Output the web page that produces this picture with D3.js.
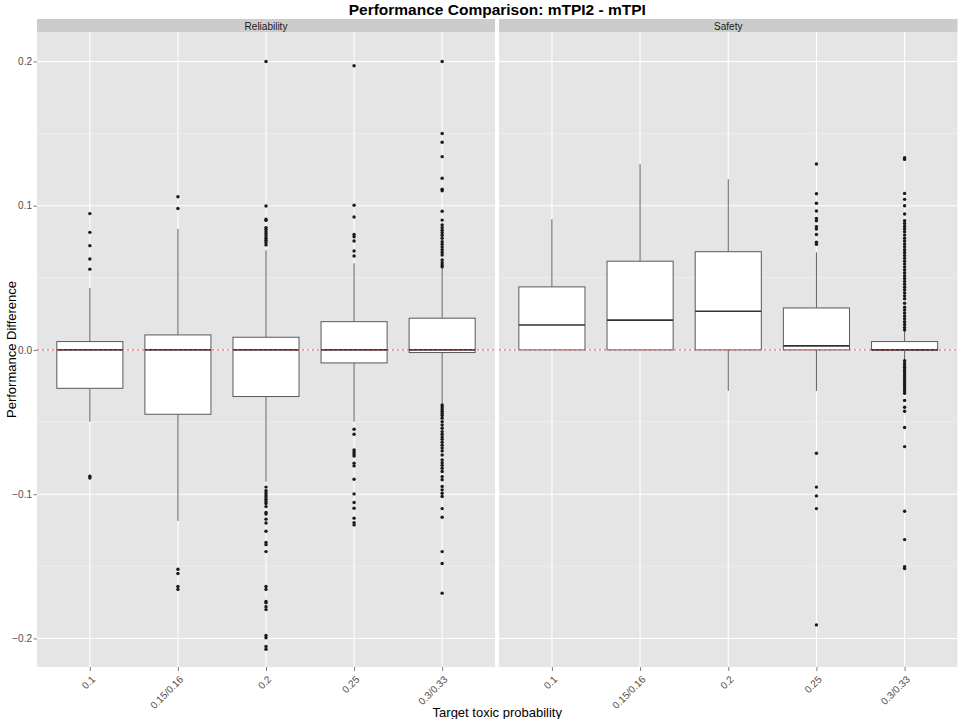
<!DOCTYPE html>
<html>
<head>
<meta charset="utf-8">
<script src="https://cdn.jsdelivr.net/npm/d3@7"></script>
<style>
body { margin: 0; background: #fff; }
text { font-family: "Liberation Sans", Arial, Helvetica, sans-serif; }
</style>
</head>
<body>
<script>
var categories = ["0.1", "0.15/0.16", "0.2", "0.25", "0.3/0.33"];
var panels = ["Reliability", "Safety"];
var yTicks = [-0.2, -0.1, 0.0, 0.1, 0.2];
var yMinor = [-0.15, -0.05, 0.05, 0.15];

// Reliability box stats
var relLower  = [-0.0497, -0.1185, -0.0913, -0.0497, -0.037];
var relQ1     = [-0.0266, -0.0446, -0.0323, -0.009, -0.0018];
var relMedian = [0, 0, 0, 0, 0];
var relQ3     = [0.0058, 0.0104, 0.0088, 0.0196, 0.022];
var relUpper  = [0.043, 0.0838, 0.069, 0.060, 0.0577];

// Safety box stats
var safLower  = [0, 0, -0.0284, -0.0284, -0.007];
var safQ1     = [0, 0, 0, 0, 0];
var safMedian = [0.0173, 0.0206, 0.0268, 0.0028, 0];
var safQ3     = [0.0437, 0.0615, 0.0681, 0.0291, 0.0058];
var safUpper  = [0.0906, 0.1287, 0.1183, 0.0677, 0.0139];

var relOutliers = [
  [0.0945, 0.0815, 0.0723, 0.063, 0.056, -0.0875, -0.0888],
  [0.1062, 0.098, -0.152, -0.155, -0.164, -0.166],
  [0.2, 0.0998, 0.0906, 0.0898, 0.0848, 0.0835, 0.082, 0.0805, 0.079, 0.0775, 0.076, 0.0745, 0.0728,
   -0.0951, -0.0975, -0.099, -0.1005, -0.102, -0.1035, -0.105, -0.1065, -0.1086, -0.1127, -0.1138,
   -0.1173, -0.120, -0.1257, -0.1335, -0.135, -0.1398, -0.164, -0.166, -0.1744, -0.1753, -0.178,
   -0.18, -0.198, -0.1995, -0.2056, -0.2075],
  [0.197, 0.1003, 0.0922, 0.080, 0.0785, 0.0755, 0.0686, 0.0651,
   -0.055, -0.0584, -0.0693, -0.0707, -0.0721, -0.0735, -0.0785, -0.0804, -0.0896, -0.0998,
   -0.1058, -0.1097, -0.1166, -0.1197, -0.1213],
  [0.2, 0.150, 0.144, 0.134, 0.119, 0.1114, 0.1104, 0.0961, 0.090, 0.0866, 0.0848, 0.083, 0.0812,
   0.0795, 0.0774, 0.075, 0.0732, 0.0714, 0.0695, 0.0676, 0.0658, 0.0624, 0.0605, 0.0588, 0.0577,
   -0.0381, -0.0395, -0.041, -0.0425, -0.044, -0.0455, -0.0473, -0.0497, -0.052, -0.0543, -0.0566,
   -0.0585, -0.0603, -0.062, -0.064, -0.066, -0.068, -0.070, -0.0728, -0.0762, -0.0782, -0.080,
   -0.082, -0.0843, -0.0878, -0.090, -0.0947, -0.097, -0.0993, -0.1016, -0.110, -0.116, -0.1398,
   -0.148, -0.1686]
];

var safOutliers = [
  [],
  [],
  [],
  [0.1289, 0.1083, 0.1017, 0.0963, 0.0912, 0.0896, 0.0855, 0.0838, 0.080, 0.0746, 0.0732,
   -0.0716, -0.0951, -0.1012, -0.110, -0.1906],
  [0.1333, 0.1321, 0.1085, 0.1044, 0.100, 0.0942, 0.0896, 0.0876, 0.0856, 0.0838, 0.082, 0.0797,
   0.0775, 0.0755, 0.0735, 0.0715, 0.0695, 0.0675, 0.0655, 0.0635, 0.0615, 0.0595, 0.0575, 0.0555,
   0.0535, 0.0515, 0.0495, 0.0475, 0.0455, 0.0435, 0.0415, 0.0395, 0.0375, 0.0355, 0.0324, 0.0296,
   0.0276, 0.0256, 0.0236, 0.0216, 0.0196, 0.0176, 0.0156, 0.0139,
   -0.0074, -0.009, -0.0105, -0.012, -0.0135, -0.015, -0.0165, -0.018, -0.0195, -0.021, -0.0225,
   -0.024, -0.0255, -0.027, -0.0285, -0.030, -0.035, -0.0397, -0.0425, -0.0538, -0.067, -0.1118,
   -0.1315, -0.1502, -0.1515]
];

function makeStats(lo, q1, med, q3, hi, outs) {
  return categories.map(function(c, i) {
    return {cat: c, lo: lo[i], q1: q1[i], med: med[i], q3: q3[i], hi: hi[i], outliers: outs[i]};
  });
}

var panelData = [
  {name: panels[0], x0: 37, x1: 495, stats: makeStats(relLower, relQ1, relMedian, relQ3, relUpper, relOutliers)},
  {name: panels[1], x0: 499, x1: 957.5, stats: makeStats(safLower, safQ1, safMedian, safQ3, safUpper, safOutliers)}
];

var W = 959, H = 719;
var panelTop = 32, panelBottom = 667, stripTop = 19;

var svg = d3.select("body").append("svg")
  .attr("width", W).attr("height", H);

var y = d3.scaleLinear().domain([-0.2198, 0.2204]).range([panelBottom, panelTop]);

svg.append("text")
  .attr("x", (37 + 957.5) / 2).attr("y", 15)
  .attr("text-anchor", "middle")
  .style("font-size", "15.5px").style("font-weight", "bold")
  .text("Performance Comparison: mTPI2 - mTPI");

panelData.forEach(function(p, pi) {
  var x = d3.scalePoint().domain(categories).range([p.x0, p.x1]).padding(0.6);
  var bw = x.step() * 0.75;
  var g = svg.append("g");

  // strip
  g.append("rect")
    .attr("x", p.x0).attr("y", stripTop)
    .attr("width", p.x1 - p.x0).attr("height", panelTop - stripTop)
    .attr("fill", "#cccccc");
  g.append("text")
    .attr("x", (p.x0 + p.x1) / 2).attr("y", 29.5)
    .attr("text-anchor", "middle")
    .style("font-size", "10px").style("fill", "#1a1a1a")
    .text(p.name);

  // panel background
  g.append("rect")
    .attr("x", p.x0).attr("y", panelTop)
    .attr("width", p.x1 - p.x0).attr("height", panelBottom - panelTop)
    .attr("fill", "#e5e5e5");

  g.selectAll(".minor").data(yMinor).enter().append("line")
    .attr("x1", p.x0).attr("x2", p.x1)
    .attr("y1", function(d) { return y(d); }).attr("y2", function(d) { return y(d); })
    .attr("stroke", "#f2f2f2").attr("stroke-width", 0.6);

  g.selectAll(".major").data(yTicks).enter().append("line")
    .attr("x1", p.x0).attr("x2", p.x1)
    .attr("y1", function(d) { return y(d); }).attr("y2", function(d) { return y(d); })
    .attr("stroke", "#ffffff").attr("stroke-width", 1.1);

  g.selectAll(".vgrid").data(categories).enter().append("line")
    .attr("x1", function(d) { return x(d); }).attr("x2", function(d) { return x(d); })
    .attr("y1", panelTop).attr("y2", panelBottom)
    .attr("stroke", "#ffffff").attr("stroke-width", 1.1);

  // boxes
  var box = g.selectAll(".box").data(p.stats).enter().append("g");

  box.filter(function(d) { return d.hi > d.q3; }).append("line")
    .attr("x1", function(d) { return x(d.cat); }).attr("x2", function(d) { return x(d.cat); })
    .attr("y1", function(d) { return y(d.q3); }).attr("y2", function(d) { return y(d.hi); })
    .attr("stroke", "#4d4d4d").attr("stroke-width", 0.9);

  box.filter(function(d) { return d.lo < d.q1; }).append("line")
    .attr("x1", function(d) { return x(d.cat); }).attr("x2", function(d) { return x(d.cat); })
    .attr("y1", function(d) { return y(d.q1); }).attr("y2", function(d) { return y(d.lo); })
    .attr("stroke", "#4d4d4d").attr("stroke-width", 0.9);

  box.append("rect")
    .attr("x", function(d) { return x(d.cat) - bw / 2; })
    .attr("width", bw)
    .attr("y", function(d) { return y(d.q3); })
    .attr("height", function(d) { return y(d.q1) - y(d.q3); })
    .attr("fill", "#ffffff").attr("stroke", "#595959").attr("stroke-width", 1);

  box.append("line")
    .attr("x1", function(d) { return x(d.cat) - bw / 2; })
    .attr("x2", function(d) { return x(d.cat) + bw / 2; })
    .attr("y1", function(d) { return y(d.med); }).attr("y2", function(d) { return y(d.med); })
    .attr("stroke", "#333333").attr("stroke-width", 1.7);

  box.selectAll("circle")
    .data(function(d) { return d.outliers.map(function(v) { return {cat: d.cat, v: v}; }); })
    .enter().append("circle")
    .attr("cx", function(d) { return x(d.cat); })
    .attr("cy", function(d) { return y(d.v); })
    .attr("r", 1.7)
    .attr("fill", "#1a1a1a");

  // zero reference line
  g.append("line")
    .attr("x1", p.x0).attr("x2", p.x1)
    .attr("y1", y(0)).attr("y2", y(0))
    .attr("stroke", "#f0484a").attr("stroke-width", 1)
    .attr("stroke-dasharray", "2,3");

  // x axis
  var xa = g.append("g").attr("transform", "translate(0," + panelBottom + ")")
    .call(d3.axisBottom(x).tickSize(4).tickPadding(0).tickFormat(""));
  xa.select(".domain").remove();
  xa.selectAll(".tick line").attr("stroke", "#7f7f7f");

  g.selectAll(".xlab").data(categories).enter().append("text")
    .attr("transform", function(d) { return "translate(" + (x(d) + 1) + "," + (panelBottom + 8) + ") rotate(-45)"; })
    .attr("text-anchor", "end")
    .attr("dy", "0.71em")
    .style("font-size", "10px").style("fill", "#4d4d4d")
    .text(function(d) { return d; });

  if (pi === 0) {
    var ya = g.append("g").attr("transform", "translate(" + p.x0 + ",0)")
      .call(d3.axisLeft(y).tickValues(yTicks).tickSize(3.5).tickPadding(1.5).tickFormat(d3.format(".1f")));
    ya.select(".domain").remove();
    ya.selectAll(".tick line").attr("stroke", "#7f7f7f");
    ya.selectAll(".tick text").style("font-size", "10px").style("fill", "#4d4d4d")
      .style("font-family", "'Liberation Sans', Arial, sans-serif");
  }
});

svg.append("text")
  .attr("transform", "translate(16," + ((panelTop + panelBottom) / 2) + ") rotate(-90)")
  .attr("text-anchor", "middle")
  .style("font-size", "13px")
  .text("Performance Difference");

svg.append("text")
  .attr("x", (37 + 957.5) / 2).attr("y", 717)
  .attr("text-anchor", "middle")
  .style("font-size", "13px")
  .text("Target toxic probability");
</script>
</body>
</html>
